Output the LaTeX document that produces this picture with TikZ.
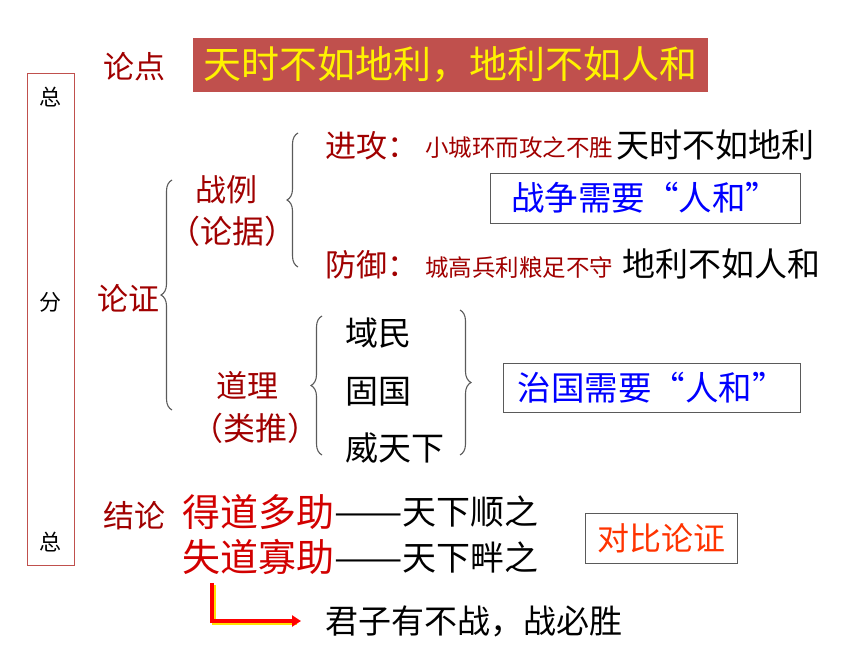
\documentclass[tikz,border=0pt]{standalone}
\usepackage{fontspec}
\setmainfont{Noto Sans CJK SC}
\usetikzlibrary{arrows.meta,positioning,decorations.pathreplacing}
\definecolor{lunred}{RGB}{160,0,0}
\definecolor{boldred}{RGB}{210,0,0}
\definecolor{boxred}{RGB}{192,80,77}
\definecolor{ruleblue}{RGB}{0,0,255}
\definecolor{contrast}{RGB}{255,51,0}
\definecolor{bracegray}{RGB}{90,90,90}
\def\fs#1{\fontsize{#1}{#1}\selectfont}
\def\longdash{\scalebox{1.2}[1]{——}}

\begin{document}
\begin{tikzpicture}[
    x=1pt, y=1pt,
    every node/.style={inner sep=0pt},
    lab/.style={text=lunred, font=\fs{31}},
    plain/.style={text=black, font=\fs{33}},
    small/.style={text=lunred, font=\fs{23.5}},
    rulebox/.style={draw=bracegray, line width=0.9pt, text=ruleblue, font=\fs{33.5}},
    curly/.style={bracegray, line width=1.1pt, decorate, decoration={brace, amplitude=11pt}},
]
    \useasboundingbox (0,0) rectangle (860,-645);
    % left strip
    \node[draw=boxred, line width=1pt, minimum width=47pt, minimum height=492pt] (strip) at (50.5,-319) {};
    \node[font=\fs{22}] (zong1) at (50,-97) {总};
    \node[font=\fs{22}] (fen) at (50,-302) {分};
    \node[font=\fs{22}] (zong2) at (50,-542) {总};
    % thesis
    \node[lab, anchor=west] (lundian) at (103,-67) {论点};
    \node[fill=boxred, minimum width=515pt, minimum height=54pt, text=yellow, font=\fs{38}] (title) at (450.5,-65) {天时不如地利，地利不如人和};
    % argument
    \node[lab, anchor=west] (lunzheng) at (97,-298) {论证};
    \node[lab] (zhanli) at (226,-190) {战例};
    \node[lab, font=\fs{32}] (lunju) at (232,-231) {（论据）};
    \node[lab] (daoli) at (247,-385) {道理};
    \node[lab, font=\fs{32}] (leitui) at (255,-428) {（类推）};
    \draw[curly] (172,-410) -- (172,-180);
    \draw[curly] (298,-267) -- (298,-133);
    % battles
    \node[lab, anchor=west] (jingong) at (325,-146) {进攻：};
    \node[small, anchor=west] (xiaocheng) at (425,-148) {小城环而攻之不胜};
    \node[plain, anchor=west] (tianshi) at (616,-145) {天时不如地利};
    \node[rulebox, minimum width=310pt, minimum height=50pt] (zhanzheng) at (645,-198) {战争需要“人和”};
    \node[lab, anchor=west] (fangyu) at (325,-265) {防御：};
    \node[small, anchor=west] (chenggao) at (425,-268) {城高兵利粮足不守};
    \node[plain, anchor=west] (dili) at (622,-264) {地利不如人和};
    % reasons
    \draw[curly] (322,-455) -- (322,-316);
    \node[plain, anchor=west] (yumin) at (345,-333) {域民};
    \node[plain, anchor=west] (guguo) at (345,-392) {固国};
    \node[plain, anchor=west] (weitianxia) at (345,-448) {威天下};
    \draw[curly] (460,-310) -- (460,-455);
    \node[rulebox, minimum width=297pt, minimum height=49pt] (zhiguo) at (651.5,-387.5) {治国需要“人和”};
    % conclusion
    \node[lab, anchor=west] (jielun) at (103,-516) {结论};
    \node[text=boldred, font=\fs{38}, anchor=west] (dedao) at (182,-512) {得道多助};
    \node[plain, anchor=west, font=\fs{34}] (shun) at (dedao.east) {\longdash 天下顺之};
    \node[text=boldred, font=\fs{38}, anchor=west] (shidao) at (182,-557) {失道寡助};
    \node[plain, anchor=west, font=\fs{34}] (pan) at (shidao.east) {\longdash 天下畔之};
    \node[draw=bracegray, line width=0.9pt, minimum width=152pt, minimum height=50pt, text=contrast, font=\fs{32}] (duibi) at (661,-538) {对比论证};
    \node[plain, anchor=west] (junzi) at (325,-621) {君子有不战，战必胜};
    \draw[yellow!85!orange, line width=4pt] ([xshift=32pt,yshift=-10pt]shidao.south west) |- ([xshift=-28pt,yshift=-2pt]junzi.west);
    \draw[red, line width=4pt, -{Triangle[length=9pt,width=11pt]}] ([xshift=30pt,yshift=-8pt]shidao.south west) |- ([xshift=-24pt]junzi.west);
\end{tikzpicture}
\end{document}
